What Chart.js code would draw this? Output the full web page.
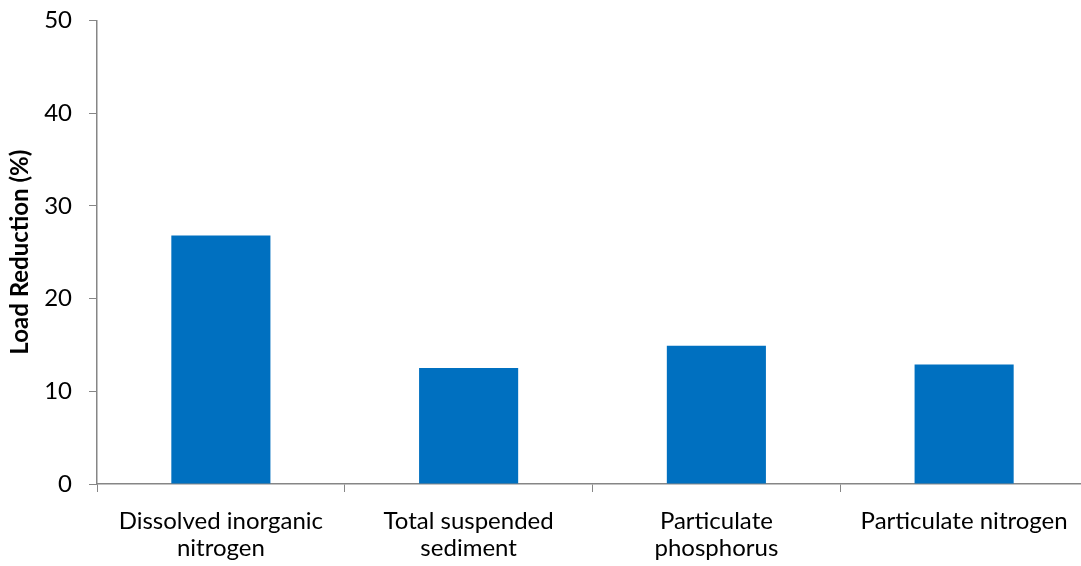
<!DOCTYPE html>
<html>
<head>
<meta charset="utf-8">
<script src="https://cdn.jsdelivr.net/npm/chart.js@4/dist/chart.umd.min.js"></script>
<style>
  html, body { margin: 0; padding: 0; background: #fff; overflow: hidden; }
  #wrap { width: 1090px; height: 577px; margin-top: -11px; position: relative; }
</style>
</head>
<body>
<div id="wrap"><canvas id="chart"></canvas></div>
<script>
// data
const categories = [
  ['Dissolved inorganic', 'nitrogen'],
  ['Total suspended', 'sediment'],
  ['Particulate', 'phosphorus'],
  ['Particulate nitrogen']
];
const loadReduction = [26.8, 12.5, 14.9, 12.9];
const yTicks = [0, 10, 20, 30, 40, 50];

const axisGrey = '#868686';
const fontFamily = 'Lato, "Open Sans", sans-serif';

new Chart(document.getElementById('chart'), {
  type: 'bar',
  data: {
    labels: categories,
    datasets: [{
      data: loadReduction,
      backgroundColor: '#0070C0',
      borderWidth: 0,
      barPercentage: 0.4,
      categoryPercentage: 1
    }]
  },
  options: {
    responsive: true,
    maintainAspectRatio: false,
    animation: false,
    layout: { padding: { top: 12, right: 2, left: 0, bottom: 0 } },
    plugins: {
      legend: { display: false },
      tooltip: { enabled: false }
    },
    scales: {
      x: {
        grid: {
          display: true,
          drawOnChartArea: false,
          drawTicks: true,
          tickLength: 8,
          color: axisGrey,
          offset: true
        },
        border: { color: axisGrey, width: 1.5 },
        ticks: {
          color: '#000',
          font: { family: fontFamily, size: 24, lineHeight: 1.12 },
          padding: 16,
          maxRotation: 0,
          autoSkip: false
        },
        afterFit: (scale) => { scale.height = 82; }
      },
      y: {
        min: 0,
        max: 50,
        afterBuildTicks: (scale) => { scale.ticks = yTicks.map(v => ({ value: v })); },
        grid: {
          display: true,
          drawOnChartArea: false,
          drawTicks: true,
          tickLength: 8,
          color: axisGrey
        },
        border: { color: axisGrey, width: 1.5 },
        ticks: {
          color: '#000',
          font: { family: fontFamily, size: 24 },
          padding: 17
        },
        title: {
          display: true,
          text: 'Load Reduction (%)',
          color: '#000',
          font: { family: fontFamily, size: 24, weight: 'bold' },
          padding: { top: 6, bottom: 0 }
        },
        afterFit: (scale) => { scale.width = 97; }
      }
    }
  }
});
</script>
</body>
</html>
